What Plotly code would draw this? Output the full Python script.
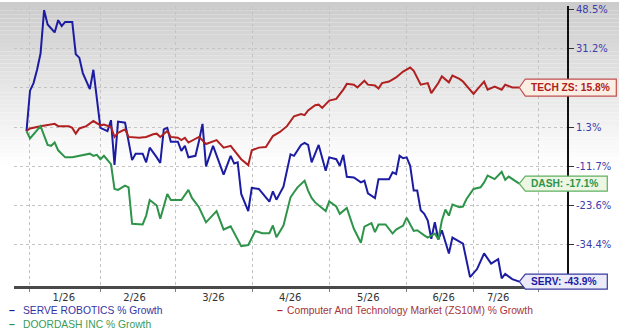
import numpy as np
import plotly.graph_objects as go

# ---------------- data (x = trading-day index since start, y = % growth) ----------------
serv_day = [0, 1, 2, 3, 4, 5, 6, 8, 9, 10, 11, 13, 14, 15, 16, 18, 19, 21, 23, 24, 25, 26, 28,
            30, 31, 33, 34, 35, 37, 38, 39, 40, 41, 43, 44, 45, 46, 48, 49, 50, 51, 53, 56, 58,
            59, 60, 61, 63, 64, 66, 69, 70, 71, 73, 75, 76, 78, 79, 80, 81, 83, 85, 86, 88, 89,
            90, 91, 93, 95, 96, 97, 99, 100, 103, 104, 105, 106, 107, 108, 109, 110, 111, 112,
            113, 114, 115, 116, 117, 118, 120, 121, 124, 126, 128, 130, 131, 132, 134, 135, 136,
            138, 140]
serv_pct = [0.0, 14.6, 17.5, 22.7, 29.4, 48.1, 41.7, 38.2, 43.6, 41.0, 42.8, 42.8, 29.0, 27.6,
            21.4, 15.2, 22.7, 1.1, 0.0, 3.8, -11.2, 3.3, 2.9, -9.7, -7.6, -7.6, -10.4, -5.6, -8.8,
            -10.6, 0.6, 1.1, -3.6, -3.6, -6.7, -5.0, -8.8, -8.3, -3.4, 2.5, -11.7, -5.0, -14.3,
            -8.3, -10.8, -10.4, -20.2, -25.2, -18.4, -18.7, -22.5, -19.4, -21.9, -18.0, -7.8,
            -8.3, -4.7, -4.0, -4.7, -10.4, -4.7, -13.1, -8.8, -9.4, -11.5, -8.0, -15.0, -15.2,
            -16.7, -16.2, -20.0, -21.4, -15.7, -15.7, -13.6, -14.1, -8.3, -9.1, -8.8, -11.5,
            -19.2, -19.2, -25.0, -26.0, -27.9, -32.9, -28.4, -33.1, -30.6, -36.8, -32.6, -34.2,
            -42.8, -40.8, -36.8, -38.0, -39.4, -38.3, -43.1, -42.0, -43.3, -43.9]

tech_day = [0, 1, 4, 6, 8, 9, 12, 13, 14, 15, 17, 19, 21, 22, 24, 25, 26, 28, 29, 32, 34, 36,
            37, 38, 40, 41, 43, 44, 45, 46, 49, 51, 54, 56, 58, 59, 61, 63, 64, 66, 68, 70, 72,
            74, 76, 78, 79, 80, 82, 83, 84, 86, 88, 90, 91, 93, 94, 96, 97, 99, 100, 101, 103,
            105, 107, 109, 110, 112, 114, 115, 117, 118, 120, 121, 123, 124, 126, 127, 128, 130,
            131, 133, 135, 136, 138, 140]
tech_pct = [0.0, 0.9, 1.7, 2.0, 2.5, 1.7, 1.7, 1.1, -0.9, 0.9, 1.7, 3.5, 2.0, 2.3, 1.4, -2.0,
            -0.6, 0.6, -2.0, -2.3, -2.0, -1.1, -0.9, -2.0, 0.0, -2.0, -2.3, -3.1, -2.3, -3.9,
            -2.0, -4.4, -3.1, -5.6, -5.0, -6.5, -9.4, -11.3, -6.5, -5.6, -5.4, -1.7, -0.3, 1.7,
            5.2, 6.0, 5.6, 7.3, 9.2, 9.4, 8.2, 10.9, 11.5, 15.0, 17.2, 16.9, 15.8, 18.4, 16.9,
            16.6, 15.4, 17.5, 18.1, 19.7, 22.0, 23.6, 22.3, 16.9, 17.5, 13.7, 17.5, 20.1, 17.8,
            20.4, 19.1, 18.1, 15.0, 13.4, 15.0, 18.1, 15.0, 16.2, 15.0, 16.9, 15.8, 15.8]

dash_day = [0, 1, 4, 5, 6, 7, 8, 9, 11, 13, 15, 18, 19, 20, 21, 22, 24, 25, 26, 28, 29, 30, 33,
            34, 35, 37, 38, 40, 41, 44, 46, 47, 49, 51, 54, 56, 58, 61, 63, 65, 67, 69, 70, 71,
            73, 75, 76, 77, 79, 80, 81, 82, 85, 86, 88, 89, 91, 93, 95, 96, 98, 99, 100, 102,
            104, 105, 107, 108, 110, 111, 113, 114, 116, 117, 118, 119, 120, 121, 123, 124, 125,
            127, 129, 130, 131, 133, 135, 136, 137, 138, 140]
dash_pct = [0.0, -2.5, 1.7, -1.4, -4.7, -5.0, -3.9, -6.5, -8.8, -8.8, -8.3, -7.6, -8.3, -8.0,
            -9.4, -8.3, -11.0, -18.7, -19.0, -17.7, -18.2, -28.8, -29.0, -26.5, -22.0, -23.6,
            -27.4, -20.2, -22.0, -22.0, -19.0, -21.4, -24.1, -28.4, -25.2, -30.4, -29.5, -34.9,
            -34.6, -30.8, -31.4, -31.4, -29.3, -32.5, -29.3, -21.2, -19.7, -18.2, -16.2, -19.2,
            -21.4, -22.7, -25.2, -22.4, -23.9, -26.0, -24.3, -30.2, -34.0, -29.6, -28.6, -31.1,
            -29.0, -29.0, -31.5, -30.4, -29.3, -27.1, -30.8, -30.6, -32.0, -32.6, -31.5, -33.1,
            -27.9, -24.8, -26.5, -23.3, -24.1, -23.9, -21.7, -18.7, -18.2, -16.7, -14.6, -15.7,
            -13.4, -15.9, -14.9, -15.7, -17.1]

month_bounds = [0.9, 20.9, 42.3, 64.1, 86.0, 107.9, 126.9, 145.4]
month_label_pos = [10.6, 30.7, 53.1, 74.9, 97.1, 118.5, 134.0]
month_labels = ["1/26", "2/26", "3/26", "4/26", "5/26", "6/26", "7/26"]
y_tick_pct = [48.5, 31.2, 15.8, 1.3, -11.7, -23.6, -34.4]
y_tick_text = ["48.5%", "31.2%", "", "1.3%", "-11.7%", "-23.6%", "-34.4%"]

series_names = ["SERVE ROBOTICS % Growth", "Computer And Technology Market (ZS10M) % Growth",
                "DOORDASH INC % Growth"]

# ---------------- styling ----------------
Y_BASE = 150.0  # offset used by the chart's compressed (log-like) percent axis
W, H = 619, 334
ML, MR, MT, MB = 14, 52, 4, 48
PW, PH = W - ML - MR, H - MT - MB
X_RANGE = [-3.55, 153.55]
Y_RANGE = [float(np.log10(105.03)), float(np.log10(200.0))]

C_SERV, C_TECH, C_DASH = "#1c1ca3", "#b02020", "#2e944a"
GRID = "#c4c4c4"

fig = go.Figure()
for xs, ys, col, nm in [(serv_day, serv_pct, C_SERV, series_names[0]),
                        (tech_day, tech_pct, C_TECH, series_names[1]),
                        (dash_day, dash_pct, C_DASH, series_names[2])]:
    fig.add_trace(go.Scatter(x=xs, y=[v + Y_BASE for v in ys], mode="lines", name=nm,
                             line=dict(color=col, width=2), showlegend=False,
                             hoverinfo="skip"))

def px2paper_x(px):
    return (px - ML) / PW

def py2paper_y(py):
    return (H - MB - py) / PH

def data2paper_x(d):
    return (d - X_RANGE[0]) / (X_RANGE[1] - X_RANGE[0])

def data2paper_y(v):
    return (np.log10(v + Y_BASE) - Y_RANGE[0]) / (Y_RANGE[1] - Y_RANGE[0])

shapes = []
# background gradient (grey at top fading to white)
N = 40
top_py, end_py = 0.0, 165.0
for i in range(N):
    a = top_py + (end_py - top_py) * i / N
    b = top_py + (end_py - top_py) * (i + 1) / N
    t = (i + 0.5) / N
    g = int(round(203 + (255 - 203) * t))
    shapes.append(dict(type="rect", xref="paper", yref="paper",
                       x0=px2paper_x(0), x1=px2paper_x(W), y0=py2paper_y(b), y1=py2paper_y(a),
                       fillcolor=f"rgb({g},{g},{g})", line=dict(width=0), layer="below"))

annotations = []
tags = [
    (serv_day[-1], serv_pct[-1], "SERV", C_SERV, "#eaeaf8", "#3a3aa0", 88, 7.5),
    (tech_day[-1], tech_pct[-1], "TECH ZS", C_TECH, "#fbefe4", "#c05050", 97, 8.5),
    (dash_day[-1], dash_pct[-1], "DASH", C_DASH, "#ecf6e2", "#60b060", 88, 7.5),
]
for xd, yv, nm, tc, fill, border, wpx, hh in tags:
    shapes.append(dict(type="path", xref="paper", yref="paper",
                       xsizemode="pixel", ysizemode="pixel",
                       xanchor=data2paper_x(xd), yanchor=data2paper_y(yv),
                       path=f"M0,0 L6,{hh} L{wpx},{hh} L{wpx},-{hh} L6,-{hh} Z",
                       fillcolor=fill, line=dict(color=border, width=1.2), layer="above"))
    annotations.append(dict(x=xd, y=float(np.log10(yv + Y_BASE)), xref="x", yref="y",
                            text=f"{nm}: {yv}%", showarrow=False, xanchor="left",
                            yanchor="middle", xshift=10,
                            font=dict(family="Liberation Sans, Arial", size=10.2, color=tc,
                                      weight="bold")))

# legend (bottom)
leg = [(series_names[0], C_SERV, "#3434a4", 7.3, 20.7, 310.5),
       (series_names[2], C_DASH, "#3a9a5a", 7.3, 20.7, 324.5),
       (series_names[1], C_TECH, "#a83434", 274.5, 285.0, 310.5)]
for txt, dcol, tcol, dx, tx, ty in leg:
    annotations.append(dict(x=px2paper_x(dx), y=py2paper_y(ty), xref="paper", yref="paper",
                            text="<b>–</b>", showarrow=False, xanchor="left", yanchor="middle",
                            font=dict(family="Liberation Sans, Arial", size=10.5, color=dcol)))
    annotations.append(dict(x=px2paper_x(tx), y=py2paper_y(ty), xref="paper", yref="paper",
                            text=txt, showarrow=False, xanchor="left", yanchor="middle",
                            font=dict(family="Liberation Sans, Arial", size=10.3, color=tcol)))

fig.update_layout(
    width=W, height=H,
    margin=dict(l=ML, r=MR, t=MT, b=MB, pad=0),
    paper_bgcolor="white", plot_bgcolor="rgba(0,0,0,0)",
    showlegend=False,
    shapes=shapes, annotations=annotations,
    xaxis=dict(range=X_RANGE, tickmode="array", tickvals=month_label_pos,
               ticktext=month_labels, ticks="", showgrid=False, zeroline=False,
               showline=True, linecolor="#4a4a4a", linewidth=3,
               tickfont=dict(family="DejaVu Sans", size=10, color="#333333"),
               minor=dict(tickmode="array", tickvals=month_bounds, showgrid=True,
                          gridcolor=GRID, griddash="dot", gridwidth=1,
                          ticks="outside", ticklen=3, tickcolor="#808080")),
    yaxis=dict(type="log", side="right", range=Y_RANGE,
               tickmode="array", tickvals=[v + Y_BASE for v in y_tick_pct],
               ticktext=y_tick_text, showgrid=True, gridcolor=GRID, griddash="dot",
               gridwidth=1, zeroline=False, showline=True, linecolor="#111111",
               linewidth=2, ticks="outside", ticklen=5, tickcolor="#333333",
               tickfont=dict(family="DejaVu Sans", size=10, color="#3c3caa")),
)

fig.write_html("out.html")
